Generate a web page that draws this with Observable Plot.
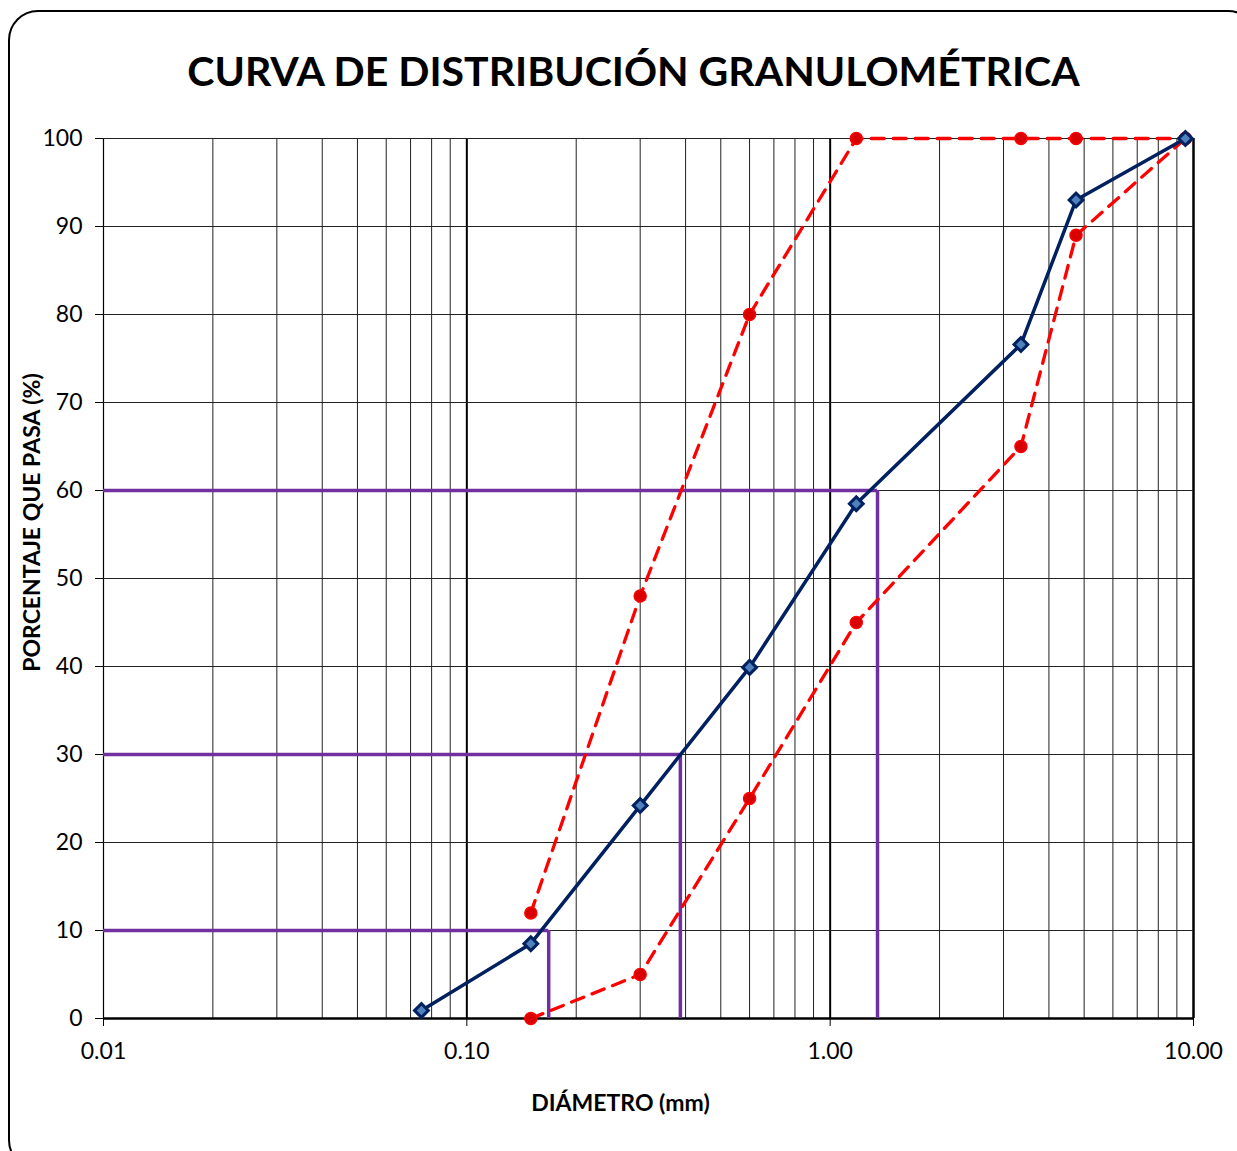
<!DOCTYPE html>
<html>
<head>
<meta charset="utf-8">
<script src="https://cdn.jsdelivr.net/npm/d3@7"></script>
<script src="https://cdn.jsdelivr.net/npm/@observablehq/plot@0.6"></script>
<style>
  body { margin: 0; background: #fff; }
  #wrap { position: relative; width: 1237px; height: 1151px; overflow: hidden; font-family: Lato, "Open Sans", sans-serif; }
  #frame { position: absolute; left: 8px; top: 10px; width: 1250px; height: 1160px; border: 2px solid #000; border-radius: 30px; box-sizing: border-box; }
  #title { position: absolute; left: 0; width: 1267px; top: 46px; text-align: center; font-size: 41px; font-weight: 700; color: #000; }
  #chart { position: absolute; left: 0; top: 0; }
</style>
</head>
<body>
<div id="wrap">
  <div id="frame"></div>
  <div id="title">CURVA DE DISTRIBUCIÓN GRANULOMÉTRICA</div>
  <div id="chart"></div>
</div>
<script>
// Sample gradation
const sampleDiam = [0.075, 0.15, 0.30, 0.60, 1.18, 3.35, 4.75, 9.5];
const samplePass = [0.9, 8.5, 24.2, 39.9, 58.5, 76.6, 93.0, 100];
// Upper limit
const upperDiam = [0.15, 0.30, 0.60, 1.18, 3.35, 4.75, 9.5];
const upperPass = [12, 48, 80, 100, 100, 100, 100];
// Lower limit
const lowerDiam = [0.15, 0.30, 0.60, 1.18, 3.35, 4.75, 9.5];
const lowerPass = [0, 5, 25, 45, 65, 89, 100];
// Characteristic diameters D10, D30, D60
const dLabels = ["D10", "D30", "D60"];
const dPass = [10, 30, 60];
const dDiam = [0.168, 0.387, 1.35];
// Axis ticks
const xTicks = [0.01, 0.1, 1, 10];
const yTicks = [0, 10, 20, 30, 40, 50, 60, 70, 80, 90, 100];

const sample = sampleDiam.map((d, i) => ({d, p: samplePass[i]}));
const upper = upperDiam.map((d, i) => ({d, p: upperPass[i]}));
const lower = lowerDiam.map((d, i) => ({d, p: lowerPass[i]}));
const dChar = dDiam.map((d, i) => ({d, p: dPass[i], name: dLabels[i]}));

const gridX = [];
for (let e = -2; e <= 0; e++) for (let m = 1; m <= 9; m++) gridX.push(+(m * Math.pow(10, e)).toPrecision(3));
gridX.push(10);
const majorX = new Set([0.01, 0.1, 1, 10]);

const chart = Plot.plot({
  width: 1237,
  height: 1151,
  marginLeft: 103,
  marginRight: 44,
  marginTop: 138,
  marginBottom: 133,
  style: {fontFamily: "Lato, 'Open Sans', sans-serif", fontSize: "23px", color: "#000", background: "transparent"},
  x: {type: "log", domain: [0.01, 10]},
  y: {domain: [0, 100]},
  marks: [
    Plot.ruleX(gridX.filter(v => !majorX.has(v)), {y1: 0, y2: 100, stroke: "#222", strokeWidth: 1}),
    Plot.ruleX([0.1, 1], {y1: 0, y2: 100, stroke: "#000", strokeWidth: 2}),
    Plot.ruleX([0.01], {y1: 0, y2: 100, stroke: "#000", strokeWidth: 1.2}),
    Plot.ruleX([10], {y1: 0, y2: 100, stroke: "#000", strokeWidth: 2.5}),
    Plot.ruleY(yTicks.filter(v => v > 0), {x1: 0.01, x2: 10, stroke: "#222", strokeWidth: 1}),
    Plot.ruleY([0], {x1: 0.01, x2: 10, stroke: "#000", strokeWidth: 2.5}),
    Plot.axisX({ticks: xTicks, tickFormat: d => d.toFixed(2), tickSize: 8, tickPadding: 16, fontSize: 23, label: null}),
    Plot.axisY({ticks: yTicks, tickSize: 8, tickPadding: 13, fontSize: 23, label: null}),
    Plot.ruleY(dChar, {y: "p", x1: 0.01, x2: "d", stroke: "#7030a0", strokeWidth: 3.5}),
    Plot.ruleX(dChar, {x: "d", y1: 0, y2: "p", stroke: "#7030a0", strokeWidth: 3.5}),
    Plot.line(upper, {x: "d", y: "p", stroke: "#ff0000", strokeWidth: 3.3, strokeDasharray: "13,9"}),
    Plot.line(lower, {x: "d", y: "p", stroke: "#ff0000", strokeWidth: 3.3, strokeDasharray: "13,9"}),
    Plot.dot(upper, {x: "d", y: "p", r: 6, fill: "#d80000", stroke: "#ff0000", strokeWidth: 1.5}),
    Plot.dot(lower, {x: "d", y: "p", r: 6, fill: "#d80000", stroke: "#ff0000", strokeWidth: 1.5}),
    Plot.line(sample, {x: "d", y: "p", stroke: "#002060", strokeWidth: 3.5}),
    Plot.dot(sample, {x: "d", y: "p", symbol: "square", r: 5.5, fill: "#4f81bd", stroke: "#002060", strokeWidth: 3, rotate: 45}),
    Plot.text(["DIÁMETRO (mm)"], {frameAnchor: "bottom", dx: -28, dy: 92, fontWeight: "bold", fontSize: 23, text: d => d}),
    Plot.text(["PORCENTAJE QUE PASA (%)"], {frameAnchor: "left", textAnchor: "middle", dx: -71, dy: -56, rotate: -90, fontWeight: "bold", fontSize: 23, text: d => d})
  ]
});
document.getElementById("chart").appendChild(chart);
</script>
</body>
</html>
